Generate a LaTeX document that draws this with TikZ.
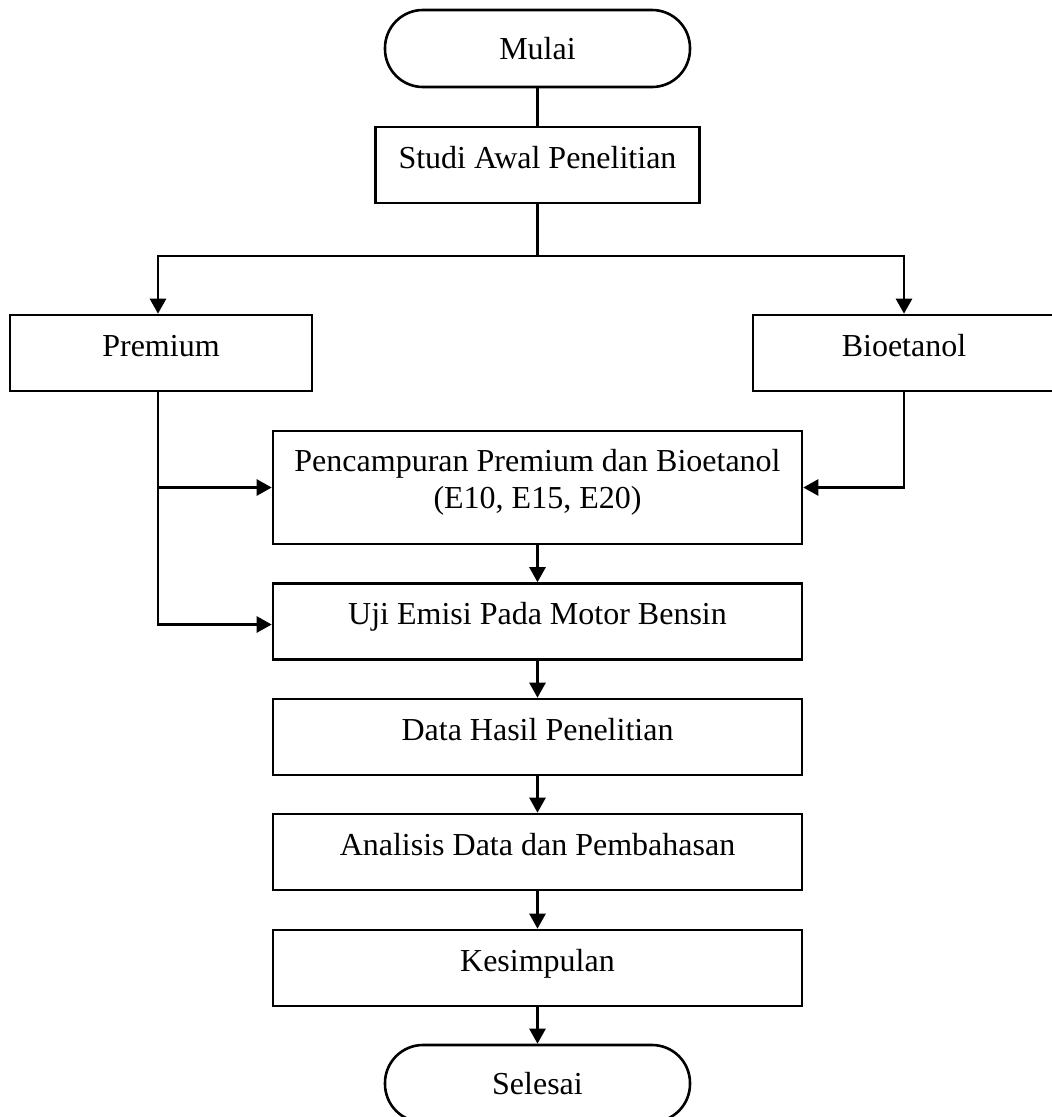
\documentclass[tikz,border=0pt]{standalone}
\usepackage{fontspec}
\setmainfont{Liberation Serif}
\usetikzlibrary{arrows.meta}
\begin{document}
\begin{tikzpicture}[x=1pt,y=-1pt,
  every node/.style={font=\fontsize{32}{37}\selectfont},
  conn/.style={line width=2.6pt},
  arr/.style={conn,-{Triangle[length=15pt,width=16pt]}},
  boxbase/.style={draw,line width=2.6pt,rectangle,inner sep=0pt},
  procbox/.style={boxbase,text height=22pt,text depth=16pt,minimum height=76pt,minimum width=529pt},
  term/.style={draw,line width=2.6pt,rounded corners=38pt,inner sep=0pt,text height=21pt,text depth=0pt,minimum height=77pt,minimum width=305pt}]
\useasboundingbox (0,0) rectangle (1052,1117);
\clip (0,0) rectangle (1052,1117);
\node[term] (mulai) at (537.5,48.5) {Mulai};
\node[procbox,minimum width=324pt] (studi) at (537.5,165) {Studi Awal Penelitian};
\node[procbox,minimum width=302pt] (prem) at (161,353) {Premium};
\node[procbox,minimum width=302pt] (bio) at (904,353) {Bioetanol};
\node[boxbase,minimum width=529pt,minimum height=113pt,align=center] (mix) at (537.5,487.5) {Pencampuran Premium dan Bioetanol\\(E10, E15, E20)\rule[-18pt]{0pt}{1pt}};
\node[procbox] (uji) at (537.5,621.5) {Uji Emisi Pada Motor Bensin};
\node[procbox] (data) at (537.5,737) {Data Hasil Penelitian};
\node[procbox] (anal) at (537.5,852) {Analisis Data dan Pembahasan};
\node[procbox] (kes) at (537.5,968) {Kesimpulan};
\node[term] (sel) at (537.5,1083.5) {Selesai};
\coordinate (split) at (537.5,256);
\draw[conn] (mulai.south) -- (studi.north);
\draw[conn] (studi.south) -- (split);
\draw[arr] (split) -| ([xshift=-3pt]prem.north);
\draw[arr] (split) -| (bio.north);
\draw[arr] ([xshift=-3pt]prem.south) |- (mix.west);
\draw[arr] ([xshift=-3pt]prem.south) |- ([yshift=-3pt]uji.west);
\draw[arr] (bio.south) |- (mix.east);
\draw[arr] (mix.south) -- (uji.north);
\draw[arr] (uji.south) -- (data.north);
\draw[arr] (data.south) -- (anal.north);
\draw[arr] (anal.south) -- (kes.north);
\draw[arr] (kes.south) -- (sel.north);
\end{tikzpicture}
\end{document}
